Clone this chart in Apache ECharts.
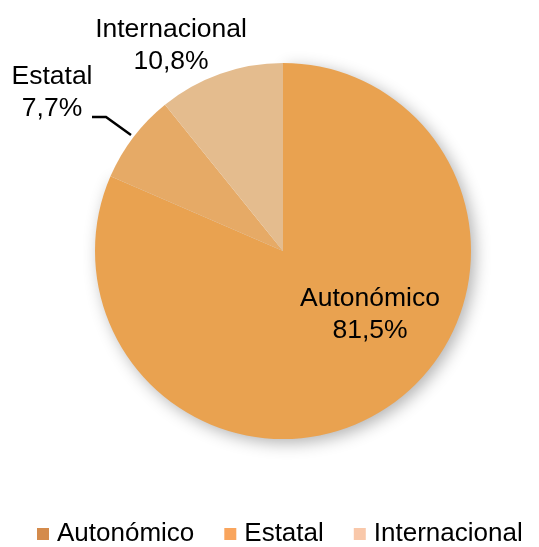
<!DOCTYPE html>
<html>
<head>
<meta charset="utf-8">
<script src="https://cdn.jsdelivr.net/npm/echarts@6/dist/echarts.min.js"></script>
<style>
html,body{margin:0;padding:0;background:#fff;}
#c{width:539px;height:547px;}
</style>
</head>
<body>
<div id="c"></div>
<script>
const categories = ['Autonómico', 'Estatal', 'Internacional'];
const values = [81.5, 7.7, 10.8];
const sliceColors = ['#E9A250', '#E6AA66', '#E4BC8E'];
const legendColors = ['#D48B4C', '#F9A55D', '#F9C8AA'];

const chart = echarts.init(document.getElementById('c'), null, {renderer: 'canvas'});
const fontFamily = '"Liberation Sans", Arial, sans-serif';

const labelPos = [
  {x: 370, y: 315},
  {x: 52, y: 93},
  {x: 171, y: 46}
];

chart.setOption({
  animation: false,
  backgroundColor: '#ffffff',
  legend: {
    top: 516,
    left: 32,
    icon: 'rect',
    itemWidth: 12,
    itemHeight: 12,
    itemGap: 30,
    textStyle: {fontFamily: fontFamily, fontSize: 26, color: '#000', padding: [0, 0, 0, 3]},
    data: categories.map((n, i) => ({name: n, itemStyle: {color: legendColors[i]}}))
  },
  series: [{
    type: 'pie',
    center: [283, 251],
    radius: 188,
    startAngle: 90,
    clockwise: true,
    data: categories.map((n, i) => ({
      name: n,
      value: values[i],
      itemStyle: i === 0 ? {
        color: sliceColors[i],
        shadowBlur: 16,
        shadowColor: 'rgba(0,0,0,0.3)',
        shadowOffsetX: 4,
        shadowOffsetY: 4
      } : {color: sliceColors[i]},
      labelLine: {show: i === 1}
    })),
    itemStyle: {borderWidth: 0},
    emphasis: {disabled: true},
    label: {
      show: true,
      fontFamily: fontFamily,
      fontSize: 26.5,
      lineHeight: 32,
      color: '#000',
      align: 'center',
      width: 300,
      overflow: 'none',
      formatter: p => p.name + '\n' + p.value.toFixed(1).replace('.', ',') + '%'
    },
    labelLine: {
      show: true,
      lineStyle: {color: '#000', width: 2.5}
    },
    labelLayout: function (params) {
      const p = labelPos[params.dataIndex];
      const res = {x: p.x, y: p.y, align: 'center', verticalAlign: 'middle'};
      if (params.dataIndex === 1) {
        res.labelLinePoints = [[131, 135], [106, 117], [92, 117]];
      }
      return res;
    }
  }]
});
</script>
</body>
</html>
